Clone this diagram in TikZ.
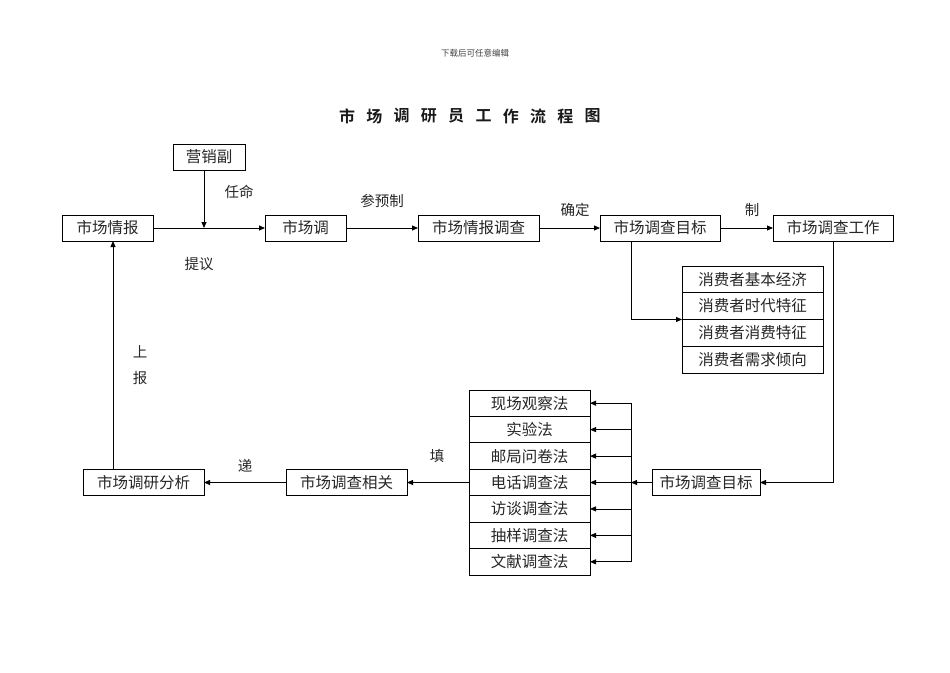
\documentclass[tikz,border=0pt]{standalone}
\usepackage{fontspec}
\newfontfamily\cjk{Noto Sans CJK SC}
\newfontfamily\cjkb{Noto Sans CJK SC Bold}
\usetikzlibrary{arrows.meta}
\begin{document}
\begin{tikzpicture}[x=1pt,y=-1pt,
  box/.style={draw, line width=0.8pt, inner sep=0pt, outer sep=0pt, minimum height=26pt, text=black!85, font=\cjk\fontsize{15.5}{16}\selectfont},
  lst/.style={box, minimum width=141pt},
  lbl/.style={inner sep=0pt, text=black!85, font=\cjk\fontsize{14.5}{15}\selectfont},
  arr/.style={draw, line width=0.8pt, -{Triangle[length=6pt,width=5pt]}},
  ln/.style={draw, line width=0.8pt}]
\useasboundingbox (0,0) rectangle (950,672);
% header and title
\node[inner sep=0pt, text=black!75, font=\cjk\fontsize{8.5}{9}\selectfont] (hdr) at (475,53) {下载后可任意编辑};
\foreach \c [count=\i from 0] in {市,场,调,研,员,工,作,流,程,图}
  \node[inner sep=0pt, text=black!90, font=\cjkb\fontsize{16}{17}\selectfont] (ti\i) at (347+27.3*\i,116) {\c};
% top row
\node[box, minimum width=72pt] (ys) at (209,157) {营销副};
\node[box, minimum width=91pt] (qb) at (107.5,228) {市场情报};
\node[box, minimum width=81pt] (sd) at (305.5,228) {市场调};
\node[box, minimum width=121pt] (qd) at (478.5,228) {市场情报调查};
\node[box, minimum width=120pt] (mb) at (660,228) {市场调查目标};
\node[box, minimum width=120pt] (gz) at (833,228) {市场调查工作};
% consumer list
\node[lst, minimum height=26.75pt] (c1) at (752.5,279.4) {消费者基本经济};
\node[lst, minimum height=26.75pt] (c2) at (752.5,306.1) {消费者时代特征};
\node[lst, minimum height=26.75pt] (c3) at (752.5,332.9) {消费者消费特征};
\node[lst, minimum height=26.75pt] (c4) at (752.5,359.6) {消费者需求倾向};
% methods list
\node[lst, minimum width=121pt, minimum height=26.43pt] (m1) at (529.5,403.2) {现场观察法};
\node[lst, minimum width=121pt, minimum height=26.43pt] (m2) at (529.5,429.6) {实验法};
\node[lst, minimum width=121pt, minimum height=26.43pt] (m3) at (529.5,456.1) {邮局问卷法};
\node[lst, minimum width=121pt, minimum height=26.43pt] (m4) at (529.5,482.5) {电话调查法};
\node[lst, minimum width=121pt, minimum height=26.43pt] (m5) at (529.5,508.9) {访谈调查法};
\node[lst, minimum width=121pt, minimum height=26.43pt] (m6) at (529.5,535.4) {抽样调查法};
\node[lst, minimum width=121pt, minimum height=26.43pt] (m7) at (529.5,561.8) {文献调查法};
% bottom row
\node[box, minimum width=108pt] (mb2) at (706,482.5) {市场调查目标};
\node[box, minimum width=121pt] (xg) at (346.5,482.5) {市场调查相关};
\node[box, minimum width=121pt] (fx) at (143.5,482.5) {市场调研分析};
% labels
\node[lbl] (l1) at (239,192) {任命};
\node[lbl] (l2) at (199,264) {提议};
\node[lbl] (l3) at (382,201) {参预制};
\node[lbl] (l4) at (575,210) {确定};
\node[lbl] (l5) at (752,210) {制};
\node[lbl] (l6) at (140,352) {上};
\node[lbl] (l7) at (140,378) {报};
\node[lbl] (l8) at (245,466) {递};
\node[lbl] (l9) at (437,456) {填};
% coordinates
\coordinate (j1) at (204,228);
\coordinate (bus) at (631,482.5);
% connectors
\draw[arr] (ys.south -| j1) -- (j1);
\draw[arr] (qb.east) -- (sd.west);
\draw[arr] (sd.east) -- (qd.west);
\draw[arr] (qd.east) -- (mb.west);
\draw[arr] (mb.east) -- (gz.west);
\draw[arr] (mb.south -| bus) |- (c2.south west);
\draw[arr] (gz.south) |- (mb2.east);
\draw[arr] (mb2.west) -- (bus);
\draw[ln] (m1.east -| bus) -- (m7.east -| bus);
\foreach \m in {m1,m2,m3,m4,m5,m6,m7}
  \draw[arr] (\m.east -| bus) -- (\m.east);
\draw[arr] (m4.west) -- (xg.east);
\draw[arr] (xg.west) -- (fx.east);
\draw[arr] (fx.north -| 113,0) -- (qb.south -| 113,0);
\end{tikzpicture}
\end{document}
